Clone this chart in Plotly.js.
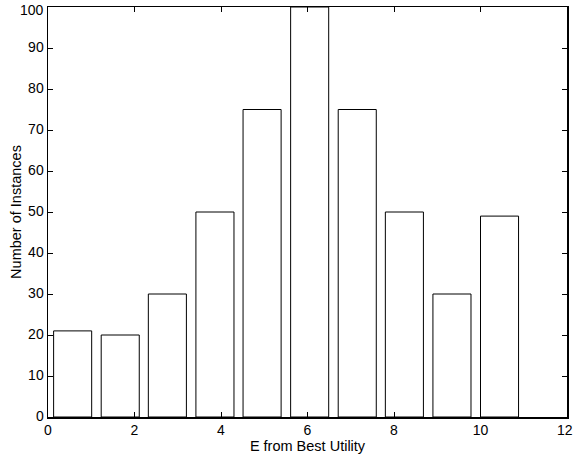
<!DOCTYPE html>
<html>
<head>
<meta charset="utf-8">
<script src="https://cdn.plot.ly/plotly-3.0.1.min.js"></script>
<style>html,body{margin:0;padding:0;background:#fff;}#chart{width:573px;height:456px;}</style>
</head>
<body>
<div id="chart"></div>
<script>
const binCenters = [0.57, 1.67, 2.76, 3.86, 4.95, 6.05, 7.15, 8.24, 9.34, 10.44];
const counts = [21, 20, 30, 50, 75, 100, 75, 50, 30, 49];
const xTicks = [0, 2, 4, 6, 8, 10, 12];
const xTickText = ['0', '2', '4', '6', '8', '10', ''];
const lastXTickLabel = '12';
const yTicks = [0, 10, 20, 30, 40, 50, 60, 70, 80, 90, 100];
const yTickText = ['0', '10', '20', '30', '40', '50', '60', '70', '80', '90', ''];
const topYTickLabel = '100';

const FONT = 'Liberation Sans, Arial, Helvetica, sans-serif';

const trace = {
  type: 'bar',
  x: binCenters,
  y: counts,
  width: 0.88,
  marker: {color: '#ffffff', line: {color: '#000000', width: 1}},
  hoverinfo: 'none'
};

const axisCommon = {
  showline: true, linecolor: '#000', linewidth: 1.5, mirror: 'ticks',
  ticks: 'inside', ticklen: 5, tickwidth: 1, tickcolor: '#000',
  showgrid: false, zeroline: false,
  ticklabeloverflow: 'allow',
  tickfont: {family: FONT, size: 14, color: '#000'}
};

const layout = {
  width: 573, height: 456,
  margin: {l: 48, r: 6, t: 7, b: 39},
  paper_bgcolor: '#fff', plot_bgcolor: '#fff',
  showlegend: false,
  bargap: 0,
  xaxis: Object.assign({}, axisCommon, {
    range: [0, 12], tickvals: xTicks, ticktext: xTickText,
    title: {text: 'E from Best Utility', font: {family: FONT, size: 14.5, color: '#000'}, standoff: 0}
  }),
  yaxis: Object.assign({}, axisCommon, {
    range: [0, 100], tickvals: yTicks, ticktext: yTickText,
    ticklabelshift: -1,
    title: {text: 'Number of Instances', font: {family: FONT, size: 14.5, color: '#000'}, standoff: 3}
  }),
  annotations: [{
    text: lastXTickLabel, showarrow: false,
    xref: 'paper', x: 1, xanchor: 'right', xshift: 7,
    yref: 'paper', y: 0, yanchor: 'middle', yshift: -13,
    borderpad: 0,
    font: {family: FONT, size: 14, color: '#000'}
  }, {
    text: topYTickLabel, showarrow: false,
    xref: 'paper', x: 0, xanchor: 'right', xshift: -3,
    yref: 'paper', y: 1, yanchor: 'top', yshift: 6,
    borderpad: 0,
    font: {family: FONT, size: 14, color: '#000'}
  }]
};

Plotly.newPlot('chart', [trace], layout, {displayModeBar: false, staticPlot: true});
</script>
</body>
</html>
